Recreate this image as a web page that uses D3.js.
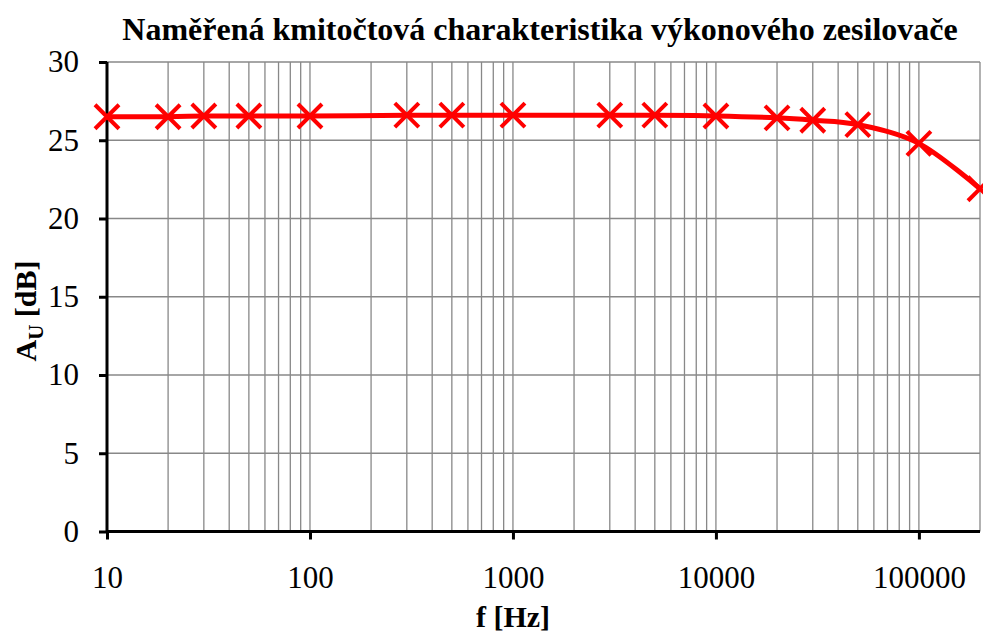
<!DOCTYPE html>
<html><head><meta charset="utf-8">
<script src="https://cdn.jsdelivr.net/npm/d3@7"></script>
<style>body{margin:0;background:#fff}svg{display:block}
text{font-family:"Liberation Serif","Times New Roman",serif}</style>
</head><body><svg id="c" width="983" height="634"></svg>
<script>
const title = "Naměřená kmitočtová charakteristika výkonového zesilovače";
const freqs = [10, 20, 30, 50, 100, 300, 500, 1000, 3000, 5000, 10000, 20000, 30000, 50000, 100000, 200000];
const gains = [26.5, 26.5, 26.55, 26.55, 26.55, 26.6, 26.6, 26.6, 26.6, 26.6, 26.55, 26.43, 26.28, 26.0, 24.8, 21.9];
const xTicks = [10, 100, 1000, 10000, 100000];
const yTicks = [0, 5, 10, 15, 20, 25, 30];

const svg = d3.select("#c");
const L = 107, R = 980, T = 62, B = 531.5;
const x = d3.scaleLog().domain([10, 200000]).range([L, R]);
const y = d3.scaleLinear().domain([0, 30]).range([B, T]);
const serif = "Liberation Serif, Times New Roman, serif";

const vgrid = [];
for (let d = 10; d <= 100000; d *= 10) for (let k = 1; k <= 9; k++) { const v = d * k; if (v > 10 && v <= 200000) vgrid.push(v); }
svg.append("g").selectAll("line").data(vgrid).join("line")
  .attr("x1", d => x(d)).attr("x2", d => x(d)).attr("y1", T).attr("y2", B)
  .attr("stroke", "#888").attr("stroke-width", 1.3);
svg.append("g").selectAll("line").data(yTicks.filter(v => v > 0)).join("line")
  .attr("x1", L).attr("x2", R).attr("y1", d => y(d)).attr("y2", d => y(d))
  .attr("stroke", "#888").attr("stroke-width", 1.3);

const yAxis = svg.append("g").attr("transform", `translate(${L},0)`)
  .call(d3.axisLeft(y).tickValues(yTicks).tickSize(8).tickPadding(20).tickFormat(d3.format("d")));
const xAxis = svg.append("g").attr("transform", `translate(0,${B})`)
  .call(d3.axisBottom(x).tickValues(xTicks).tickSize(8).tickPadding(26).tickFormat(d3.format("d")));
[yAxis, xAxis].forEach(g => {
  g.attr("font-family", serif).attr("font-size", 31);
  g.select(".domain").attr("stroke", "#000").attr("stroke-width", 3);
  g.selectAll(".tick line").attr("stroke", "#000").attr("stroke-width", 3);
  g.selectAll(".tick text").attr("fill", "#000").style("font-family", serif).style("font-size", "31px");
});
xAxis.select(".domain").attr("d", `M${L},0H${R}`);
yAxis.select(".domain").attr("d", `M0,${B}V${T}`);

const pts = freqs.map((f, i) => [x(f), y(gains[i])]);
svg.append("path").attr("d", d3.line().curve(d3.curveCardinal.tension(0))(pts))
  .attr("fill", "none").attr("stroke", "#ff0000").attr("stroke-width", 5);
const s = 12;
svg.append("g").selectAll("path").data(pts).join("path")
  .attr("d", d => `M${d[0]-s},${d[1]-s}L${d[0]+s},${d[1]+s}M${d[0]-s},${d[1]+s}L${d[0]+s},${d[1]-s}`)
  .attr("stroke", "#ff0000").attr("stroke-width", 4).attr("fill", "none");

svg.append("text").attr("x", 540).attr("y", 40).attr("text-anchor", "middle")
  .attr("font-weight", "bold").attr("font-size", 32).text(title);
svg.append("text").attr("x", 513).attr("y", 627).attr("text-anchor", "middle")
  .attr("font-weight", "bold").attr("font-size", 30).text("f [Hz]");
const yl = svg.append("text").attr("transform", "translate(36,311) rotate(-90)").attr("text-anchor", "middle")
  .attr("font-weight", "bold").attr("font-size", 30);
yl.append("tspan").text("A");
yl.append("tspan").attr("dy", 7).attr("font-size", 21).text("U");
yl.append("tspan").attr("dy", -7).text(" [dB]");
</script></body></html>
